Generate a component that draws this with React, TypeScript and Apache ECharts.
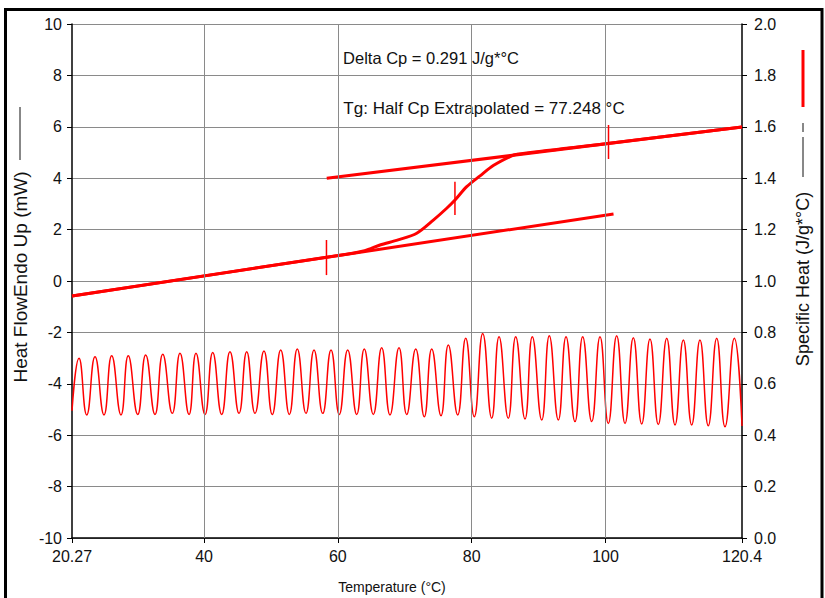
import React, { useEffect, useRef } from "react";
import * as echarts from "echarts";

// ---- Data ----
const xTickValues = [20.27, 40, 60, 80, 100, 120.4];
const xGridValues = [40, 60, 80, 100];

// Modulated heat flow (left axis, mW): start, alternating peaks and troughs, end
const oscStart = [20.27, -5.05];
const oscEnd = [120.4, -5.64];
const peakT = [21.32, 23.71, 26.2, 28.68, 31.28, 33.83, 36.41, 38.8, 41.3, 43.88, 46.38, 48.96, 51.46, 53.94, 56.44, 58.98, 61.47, 63.95, 66.55, 69.14, 71.64, 74.03, 76.51, 79.11, 81.65, 84.09, 86.58, 89.06, 91.6, 94.1, 96.59, 99.18, 101.67, 104.16, 106.65, 109.15, 111.63, 114.12, 116.62, 119.25];
const peakV = [-3.01, -2.95, -2.91, -2.91, -2.88, -2.85, -2.81, -2.81, -2.78, -2.75, -2.75, -2.72, -2.68, -2.65, -2.68, -2.68, -2.68, -2.65, -2.6, -2.6, -2.65, -2.65, -2.49, -2.23, -2.04, -2.17, -2.17, -2.17, -2.13, -2.17, -2.17, -2.17, -2.13, -2.21, -2.26, -2.23, -2.3, -2.3, -2.23, -2.23];
const troughT = [22.47, 25.05, 27.59, 30.09, 32.67, 35.26, 37.76, 40.15, 42.64, 45.23, 47.62, 50.2, 52.75, 55.24, 57.74, 60.22, 62.82, 65.3, 67.79, 70.29, 72.92, 75.42, 77.91, 80.39, 82.99, 85.47, 87.97, 90.47, 92.95, 95.44, 97.94, 100.42, 102.92, 105.41, 107.89, 110.39, 112.88, 115.36, 117.86];
const troughV = [-5.21, -5.21, -5.21, -5.19, -5.19, -5.15, -5.19, -5.19, -5.19, -5.15, -5.15, -5.19, -5.19, -5.15, -5.15, -5.19, -5.19, -5.19, -5.21, -5.19, -5.28, -5.24, -5.21, -5.28, -5.34, -5.34, -5.37, -5.41, -5.41, -5.47, -5.47, -5.54, -5.54, -5.56, -5.58, -5.6, -5.6, -5.63, -5.67];

// Specific heat curve (right axis, J/g*°C)
const cpT = [20.27, 60, 64, 66.3, 69, 71.79, 74.27, 76.27, 77.51, 79.26, 81.25, 83.23, 85.73, 86.73, 100, 120.4];
const cpV = [0.942, 1.099, 1.118, 1.14, 1.16, 1.186, 1.237, 1.283, 1.315, 1.367, 1.409, 1.449, 1.484, 1.493, 1.534, 1.599];

// Extrapolated tangent lines
const lowerTangent = [[20.27, 0.942], [101.2, 1.261]];
const upperTangent = [[58.34, 1.4], [120.4, 1.599]];

// Onset / midpoint / endset markers
const markerT = [58.3, 77.5, 100.45];
const markerLow = [1.023, 1.257, 1.475];
const markerHigh = [1.16, 1.386, 1.607];

const FONT = "'Liberation Sans', Arial, sans-serif";

export default function App() {
  const ref = useRef<HTMLDivElement>(null);

  useEffect(() => {
    if (!ref.current) return;
    const chart = echarts.init(ref.current, undefined, { renderer: "svg" });

    const osc: number[][] = [oscStart];
    for (let i = 0; i < peakT.length; i++) {
      osc.push([peakT[i], peakV[i]]);
      if (i < troughT.length) osc.push([troughT[i], troughV[i]]);
    }
    osc.push(oscEnd);

    const cpData = cpT.map((t, i) => [t, cpV[i]]);
    const red = "#ff0000";

    const markerSeries = markerT.map((t, i) => ({
      type: "line",
      yAxisIndex: 1,
      data: [[t, markerLow[i]], [t, markerHigh[i]]],
      showSymbol: false,
      symbol: "none",
      lineStyle: { color: red, width: 1.5 },
      z: 5,
      silent: true,
    }));

    const text = (t: string, x: number, y: number, size: number, rot = 0) => ({
      type: "text",
      x,
      y,
      rotation: rot,
      silent: true,
      style: {
        text: t,
        font: `${size}px ${FONT}`,
        fill: "#111",
        textAlign: "center",
        textVerticalAlign: "middle",
      },
    });

    chart.setOption({
      animation: false,
      backgroundColor: "#ffffff",
      textStyle: { fontFamily: FONT },
      grid: { left: 72, right: 83, top: 24, bottom: 60, containLabel: false },
      xAxis: {
        type: "value",
        min: 20.27,
        max: 120.4,
        axisLine: { show: true, onZero: false, lineStyle: { color: "#000", width: 1.5 } },
        axisTick: { show: true, length: 5, customValues: xTickValues, lineStyle: { color: "#000" } },
        axisLabel: {
          customValues: xTickValues,
          color: "#111",
          fontSize: 16,
          fontFamily: FONT,
          margin: 10,
          showMinLabel: true,
          showMaxLabel: true,
        },
        splitLine: { show: false },
      },
      yAxis: [
        {
          type: "value",
          min: -10,
          max: 10,
          interval: 2,
          position: "left",
          axisLine: { show: true, onZero: false, lineStyle: { color: "#000", width: 1.5 } },
          axisTick: { show: true, length: 5, lineStyle: { color: "#000" } },
          axisLabel: { color: "#111", fontSize: 16, fontFamily: FONT, margin: 10 },
          splitLine: { show: true, lineStyle: { color: "#8a8a8a", width: 1 } },
        },
        {
          type: "value",
          min: 0,
          max: 2,
          interval: 0.2,
          position: "right",
          axisLine: { show: true, onZero: false, lineStyle: { color: "#000", width: 1.5 } },
          axisTick: { show: true, length: 5, lineStyle: { color: "#000" } },
          axisLabel: {
            color: "#111",
            fontSize: 16,
            fontFamily: FONT,
            margin: 12,
            formatter: (v: number) => v.toFixed(1),
          },
          splitLine: { show: false },
        },
      ],
      series: [
        {
          type: "line",
          data: [[20.27, -10]],
          showSymbol: false,
          symbol: "none",
          lineStyle: { width: 0 },
          z: 1,
          silent: true,
          markLine: {
            silent: true,
            symbol: "none",
            label: { show: false },
            lineStyle: { color: "#8a8a8a", width: 1, type: "solid" },
            data: xGridValues.map((v) => ({ xAxis: v })),
          },
        },
        {
          type: "line",
          data: osc,
          yAxisIndex: 0,
          showSymbol: false,
          symbol: "none",
          smooth: 0.5,
          lineStyle: { color: red, width: 1.5 },
          z: 3,
          silent: true,
        },
        {
          type: "line",
          yAxisIndex: 1,
          data: lowerTangent,
          showSymbol: false,
          symbol: "none",
          lineStyle: { color: red, width: 3 },
          z: 4,
          silent: true,
        },
        {
          type: "line",
          yAxisIndex: 1,
          data: upperTangent,
          showSymbol: false,
          symbol: "none",
          lineStyle: { color: red, width: 3 },
          z: 4,
          silent: true,
        },
        {
          type: "line",
          yAxisIndex: 1,
          data: cpData,
          showSymbol: false,
          symbol: "none",
          smooth: 0.3,
          lineStyle: { color: red, width: 3 },
          z: 4,
          silent: true,
        },
        ...markerSeries,
      ],
      graphic: [
        {
          type: "rect",
          silent: true,
          shape: { x: 5.5, y: 9.5, width: 816.5, height: 600 },
          style: { fill: "none", stroke: "#000", lineWidth: 3 },
        },
        text("Delta Cp = 0.291 J/g*°C", 431, 58, 16.5),
        text("Tg: Half Cp Extrapolated = 77.248 °C", 484, 108, 17),
        text("Temperature (°C)", 392, 587, 14),
        text("Heat FlowEndo Up (mW)", 20, 277, 19, Math.PI / 2),
        {
          type: "line",
          silent: true,
          shape: { x1: 20, y1: 107, x2: 20, y2: 160 },
          style: { stroke: "#111", lineWidth: 1 },
        },
        text("Specific Heat (J/g*°C)", 803, 279, 18, Math.PI / 2),
        {
          type: "line",
          silent: true,
          shape: { x1: 803, y1: 137, x2: 803, y2: 177 },
          style: { stroke: "#111", lineWidth: 1 },
        },
        {
          type: "line",
          silent: true,
          shape: { x1: 803, y1: 123, x2: 803, y2: 132 },
          style: { stroke: "#111", lineWidth: 1 },
        },
        {
          type: "line",
          silent: true,
          shape: { x1: 803, y1: 50, x2: 803, y2: 107 },
          style: { stroke: red, lineWidth: 3 },
        },
      ],
    });

    return () => chart.dispose();
  }, []);

  return (
    <div
      ref={ref}
      style={{ position: "fixed", left: 0, top: 0, width: 825, height: 598 }}
    />
  );
}
